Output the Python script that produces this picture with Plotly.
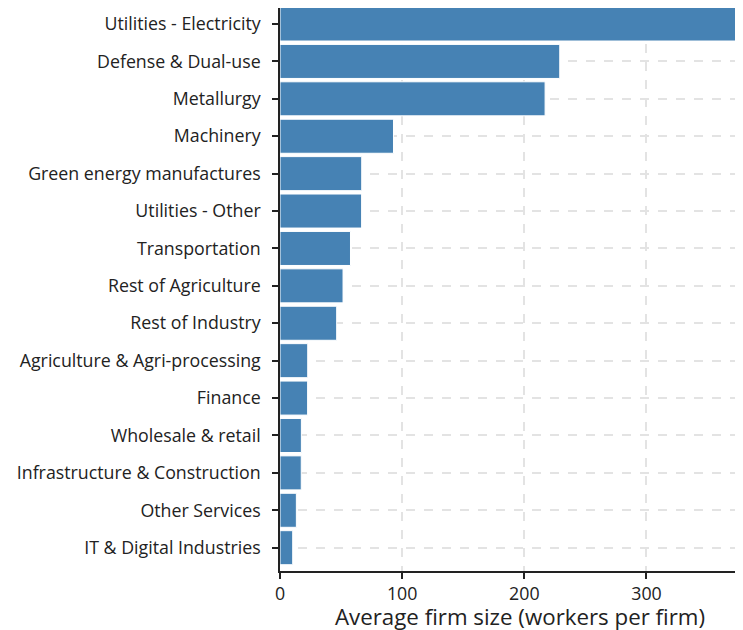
import plotly.graph_objects as go

categories = [
    "Utilities - Electricity",
    "Defense & Dual-use",
    "Metallurgy",
    "Machinery",
    "Green energy manufactures",
    "Utilities - Other",
    "Transportation",
    "Rest of Agriculture",
    "Rest of Industry",
    "Agriculture & Agri-processing",
    "Finance",
    "Wholesale & retail",
    "Infrastructure & Construction",
    "Other Services",
    "IT & Digital Industries",
]
avg_firm_size = [374.9, 229.0, 217.0, 92.9, 66.9, 66.8, 57.7, 51.6, 46.4, 22.7, 22.6, 17.5, 17.4, 13.4, 10.4]
x_ticks = [0, 100, 200, 300]
x_title = "Average firm size (workers per firm)"

n = len(categories)

fig = go.Figure(
    go.Bar(
        x=avg_firm_size,
        y=categories,
        orientation="h",
        marker=dict(color="#4682B4", line=dict(color="white", width=1)),
        hoverinfo="x+y",
    )
)

fig.update_layout(
    width=735,
    height=622,
    margin=dict(l=272, r=0, t=0, b=59),
    plot_bgcolor="white",
    paper_bgcolor="white",
    font=dict(family="Open Sans", size=17.8, color="#222222"),
    bargap=0.09,
    showlegend=False,
    annotations=[
        dict(
            text=x_title,
            x=0.5,
            xref="paper",
            xanchor="center",
            xshift=8,
            y=0,
            yref="paper",
            yanchor="top",
            yshift=-28,
            showarrow=False,
            font=dict(size=22.3, color="#222222"),
        )
    ],
)

fig.update_xaxes(
    range=[0, 379],
    tickvals=x_ticks,
    showgrid=True,
    gridcolor="#e3e3e3",
    gridwidth=2,
    griddash="dash",
    zeroline=False,
    showline=True,
    linecolor="#222222",
    linewidth=1.5,
    ticks="outside",
    ticklen=6,
    tickwidth=1.5,
    tickcolor="#222222",
    tickfont=dict(size=17.8),
)

fig.update_yaxes(
    categoryorder="array",
    categoryarray=categories,
    range=[n - 1 + 0.623, -0.428],
    showgrid=True,
    gridcolor="#e3e3e3",
    gridwidth=2,
    griddash="dash",
    zeroline=False,
    showline=True,
    linecolor="#222222",
    linewidth=1.5,
    ticks="outside",
    ticklen=6,
    tickwidth=1.5,
    tickcolor="#222222",
    tickfont=dict(size=17.8),
    ticklabelstandoff=8,
)

fig.write_html("out.html")
